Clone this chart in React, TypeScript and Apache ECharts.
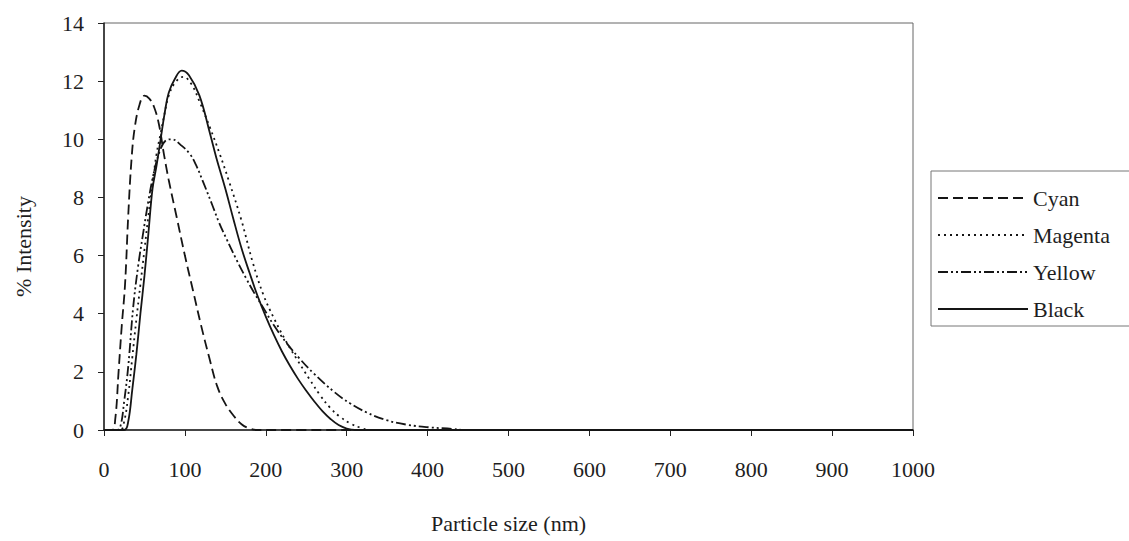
import React, { useEffect, useRef } from "react";
import * as echarts from "echarts";

const FONT = '"Liberation Serif", "Times New Roman", serif';
const TEXT = "#1e1e1e";
const LINE = "#151515";

const seriesNames = ["Cyan", "Magenta", "Yellow", "Black"];

const cyanSize = [0, 10, 14, 18, 22, 26, 30, 34, 38, 44, 50, 56, 62, 68, 74, 80, 90, 100, 110, 120, 130, 140, 150, 160, 170, 180, 190, 1000];
const cyanValue = [0, 0, 0.4, 2.0, 3.6, 5.0, 7.4, 9.3, 10.4, 11.2, 11.5, 11.4, 11.1, 10.5, 9.5, 8.6, 7.3, 6.0, 4.8, 3.6, 2.5, 1.5, 0.9, 0.5, 0.2, 0.05, 0, 0];

const magentaSize = [0, 20, 25, 30, 35, 40, 45, 50, 55, 60, 65, 70, 75, 80, 88, 98, 108, 118, 131, 143, 154, 170, 184, 197, 210, 224, 238, 254, 267, 280, 291, 305, 318, 330, 1000];
const magentaValue = [0, 0, 0.3, 1.2, 2.5, 3.8, 5.0, 6.2, 7.4, 8.5, 9.5, 10.2, 10.9, 11.5, 11.95, 12.15, 11.9, 11.3, 10.4, 9.5, 8.6, 7.2, 5.75, 4.65, 3.85, 3.1, 2.45, 1.75, 1.2, 0.75, 0.47, 0.22, 0.07, 0, 0];

const yellowSize = [0, 15, 20, 25, 30, 36, 42, 48, 55, 62, 69, 76, 84, 95, 106, 114, 123, 133, 142, 151, 163, 176, 186, 197, 210, 226, 242, 259, 285, 304, 325, 349, 375, 403, 430, 445, 1000];
const yellowValue = [0, 0, 0.1, 1.0, 2.2, 4.2, 5.6, 6.7, 7.9, 8.9, 9.6, 9.95, 10.0, 9.8, 9.5, 9.1, 8.5, 7.8, 7.15, 6.6, 5.9, 5.2, 4.7, 4.2, 3.6, 2.98, 2.45, 1.95, 1.3, 0.92, 0.6, 0.34, 0.18, 0.09, 0.04, 0, 0];

const blackSize = [0, 25, 30, 35, 40, 45, 50, 55, 60, 65, 70, 75, 80, 88, 96, 105, 118, 131, 139, 150, 160, 170, 180, 190, 200, 210, 220, 230, 240, 250, 260, 270, 280, 290, 300, 310, 1000];
const blackValue = [0, 0, 0.3, 1.4, 2.6, 4.0, 5.3, 6.8, 8.3, 9.1, 10.0, 10.9, 11.6, 12.1, 12.36, 12.2, 11.5, 10.2, 9.35, 8.3, 7.25, 6.25, 5.4, 4.6, 3.9, 3.27, 2.7, 2.2, 1.75, 1.35, 0.98, 0.65, 0.38, 0.17, 0.05, 0, 0];

const xTicks = [0, 1000, 100];
const yTicks = [0, 14, 2];

const pairs = (xs: number[], ys: number[]) => xs.map((x, i) => [x, ys[i]]);

const dashStyles: (number[] | "solid")[] = [
  [10, 5],
  [2, 4],
  [10, 3, 2, 3, 2, 3],
  "solid",
];

export default function App() {
  const ref = useRef<HTMLDivElement>(null);

  useEffect(() => {
    if (!ref.current) return;
    const chart = echarts.init(ref.current, undefined, { renderer: "svg" });
    const data = [
      pairs(cyanSize, cyanValue),
      pairs(magentaSize, magentaValue),
      pairs(yellowSize, yellowValue),
      pairs(blackSize, blackValue),
    ];
    chart.setOption({
      animation: false,
      backgroundColor: "#ffffff",
      grid: {
        left: 104,
        right: 216,
        top: 23,
        bottom: 111,
        show: true,
        borderColor: "#666",
        borderWidth: 1,
        backgroundColor: "transparent",
      },
      legend: {
        orient: "vertical",
        left: 931,
        top: 171,
        itemWidth: 90,
        itemHeight: 14,
        itemGap: 13,
        padding: [15, 40, 5, 6],
        borderColor: "#777",
        borderWidth: 1,
        itemStyle: { opacity: 0 },
        textStyle: { fontFamily: FONT, fontSize: 22, color: TEXT, lineHeight: 24 },
        data: seriesNames,
      },
      xAxis: {
        type: "value",
        min: xTicks[0],
        max: xTicks[1],
        interval: xTicks[2],
        name: "Particle size (nm)",
        nameLocation: "middle",
        nameGap: 82,
        nameTextStyle: { fontFamily: FONT, fontSize: 22, color: TEXT },
        axisLine: { show: true, lineStyle: { color: "#222", width: 1.5 } },
        axisTick: { show: true, length: 6, inside: false, lineStyle: { color: "#222" } },
        axisLabel: {
          margin: 28,
          fontFamily: FONT,
          fontSize: 22,
          color: TEXT,
          formatter: (v: number) => String(v),
        },
        splitLine: { show: false },
      },
      yAxis: {
        type: "value",
        min: yTicks[0],
        max: yTicks[1],
        interval: yTicks[2],
        name: "% Intensity",
        nameLocation: "middle",
        nameGap: 70,
        nameTextStyle: { fontFamily: FONT, fontSize: 22, color: TEXT, padding: [0, 40, 0, 0] },
        axisLine: { show: true, lineStyle: { color: "#222", width: 1.5 } },
        axisTick: { show: true, length: 6, inside: false, lineStyle: { color: "#222" } },
        axisLabel: { margin: 20, fontFamily: FONT, fontSize: 22, color: TEXT },
        splitLine: { show: false },
      },
      series: seriesNames.map((name, i) => ({
        name,
        type: "line",
        data: data[i],
        symbol: "none",
        smooth: 0.4,
        lineStyle: { color: LINE, width: 1.8, type: dashStyles[i] },
        itemStyle: { color: LINE },
        z: 2 + i,
      })),
    });
    return () => chart.dispose();
  }, []);

  return (
    <div
      ref={ref}
      style={{ position: "fixed", left: 0, top: 0, width: 1129, height: 541, background: "#fff" }}
    />
  );
}
